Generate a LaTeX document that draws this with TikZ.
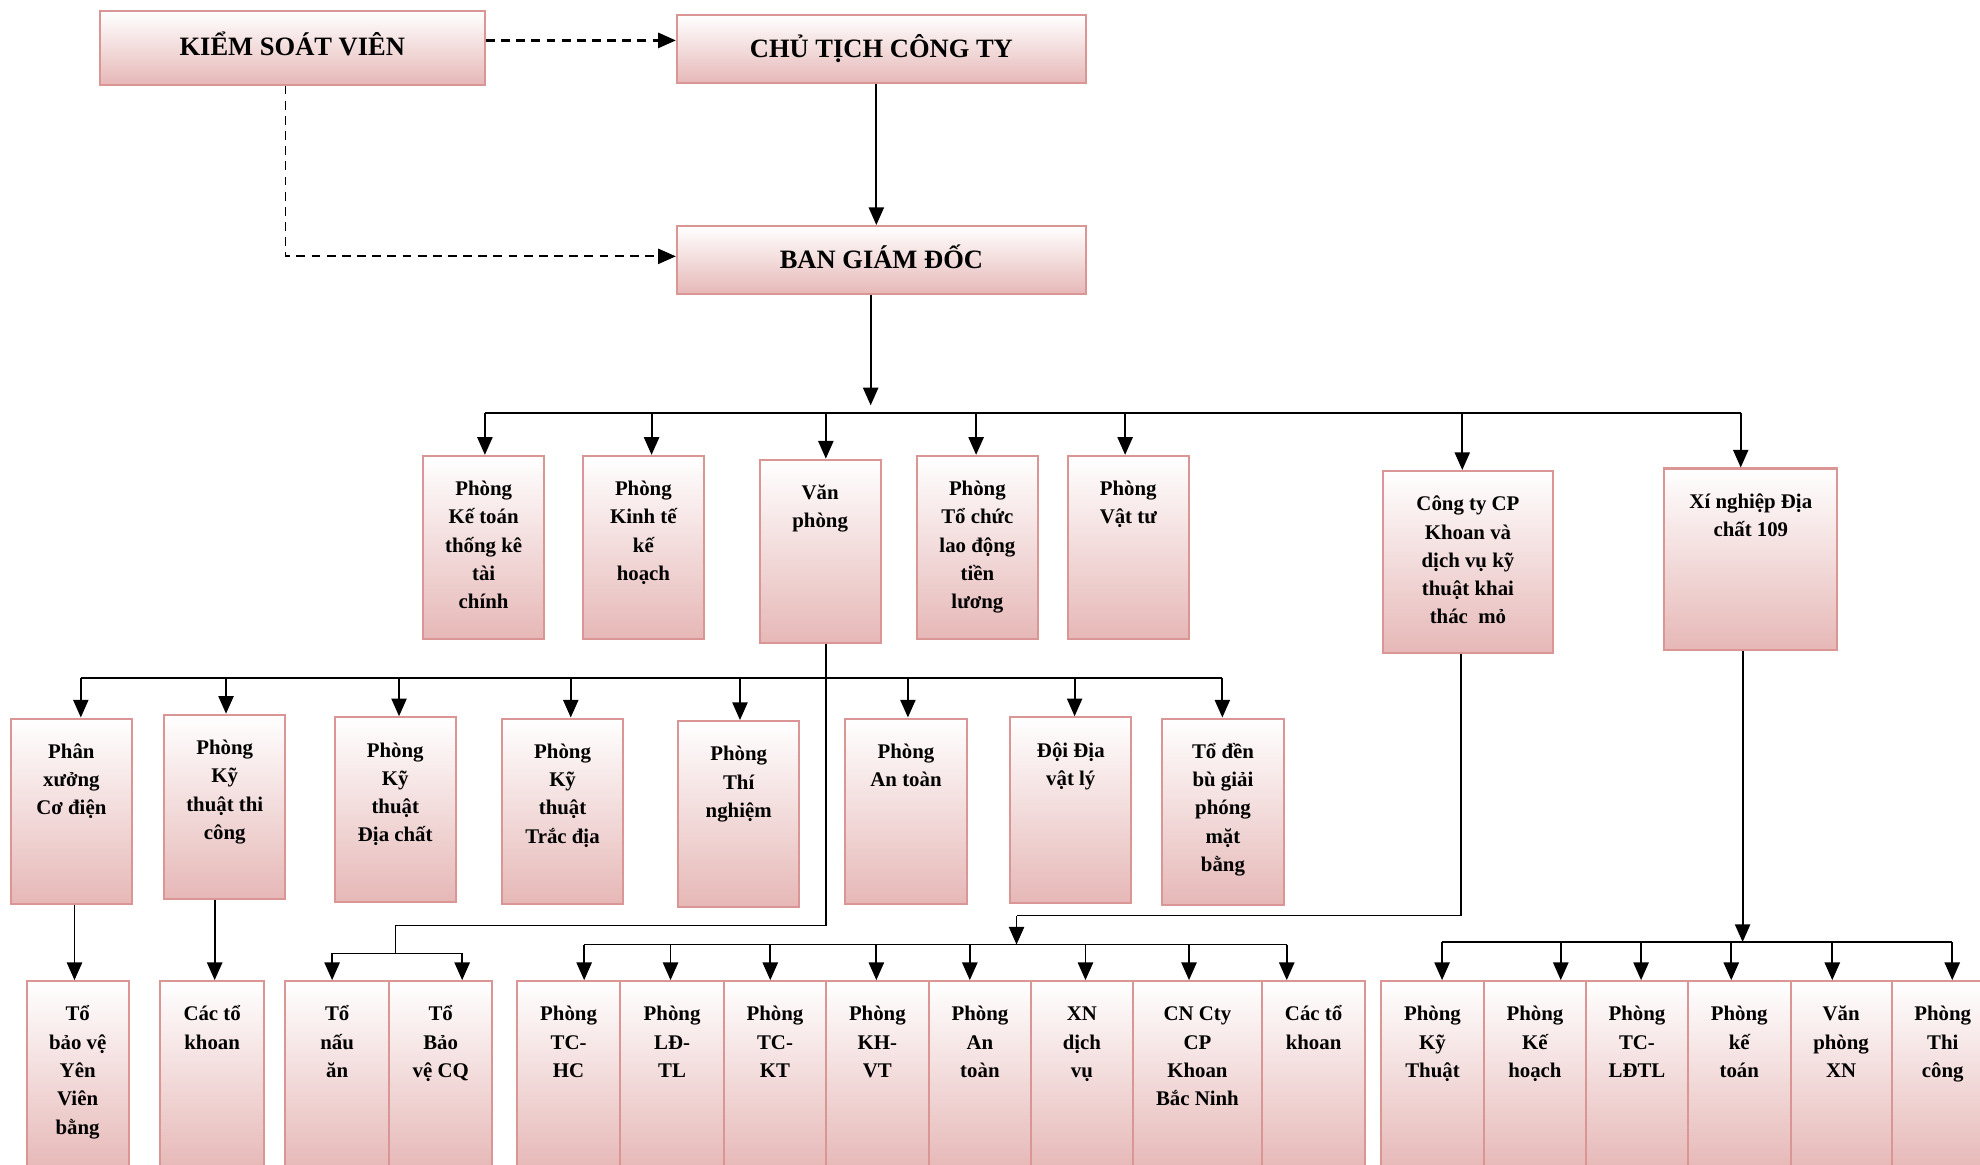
\documentclass[tikz,border=0pt]{standalone}
\usepackage{fontspec}
\setmainfont{Liberation Serif}
\usetikzlibrary{arrows.meta}
\definecolor{pborder}{RGB}{217,150,148}
\definecolor{pfill}{RGB}{230,184,183}
\newcommand\lbl[3]{\parbox[c][#2][t]{#1}{\centering\rule{0pt}{31.5pt}#3\par}}
\tikzset{
  org/.style={draw=pborder, line width=1.6pt, top color=white, bottom color=pfill,
    inner sep=0pt, font=\fontsize{16.5}{22.4}\selectfont\bfseries},
  topbox/.style={draw=pborder, line width=1.6pt, top color=white, bottom color=pfill,
    inner sep=0pt, text height=12.5pt, text depth=0pt, font=\fontsize{21}{25}\selectfont\bfseries},
  conn/.style={line width=1.3pt, black},
  arr/.style={line width=1.5pt, black, -{Triangle[length=14pt,width=12pt]}},
  darr/.style={line width=1.8pt, black, dash pattern=on 7pt off 5pt, -{Triangle[length=14pt,width=12pt]}}
}
\begin{document}
\begin{tikzpicture}[x=1pt,y=-1pt]
\useasboundingbox (0,0) rectangle (1568,922);
\fill[white] (0,0) rectangle (1568,922);
\clip (0,0) rectangle (1568,922);

% top level
\node[topbox, minimum width=305pt, minimum height=58pt] (ksv) at (231.5,38) {KIỂM SOÁT VIÊN};
\node[topbox, minimum width=324pt, minimum height=54pt] (ct) at (698,39) {CHỦ TỊCH CÔNG TY};
\node[topbox, minimum width=324pt, minimum height=54pt] (bgd) at (698,206) {BAN GIÁM ĐỐC};

% level 2
\node[org] (p1) at (383,433.5) {\lbl{96pt}{145pt}{Phòng\\Kế toán\\thống kê\\tài\\chính}};
\node[org] (p2) at (509.5,433.5) {\lbl{96pt}{145pt}{Phòng\\Kinh tế\\kế\\hoạch}};
\node[org] (p3) at (649.5,436.5) {\lbl{96pt}{145pt}{Văn\\phòng}};
\node[org] (p4) at (774,433.5) {\lbl{96pt}{145pt}{Phòng\\Tổ chức\\lao động\\tiền\\lương}};
\node[org] (p5) at (893.5,433.5) {\lbl{96pt}{145pt}{Phòng\\Vật tư}};
\node[org] (p6) at (1162.5,445) {\lbl{135pt}{144pt}{Công ty CP\\Khoan và\\dịch vụ kỹ\\thuật khai\\thác\ \ mỏ}};
\node[org] (p7) at (1386.5,443) {\lbl{137pt}{144pt}{Xí nghiệp Địa\\chất 109}};

% level 3
\node[org] (q1) at (56.5,642.5) {\lbl{96pt}{147pt}{Phân\\xưởng\\Cơ điện}};
\node[org] (q2) at (178,639) {\lbl{96pt}{146pt}{Phòng\\Kỹ\\thuật thi\\công}};
\node[org] (q3) at (313,641) {\lbl{96pt}{146pt}{Phòng\\Kỹ\\thuật\\Địa chất}};
\node[org] (q4) at (445.5,642.5) {\lbl{96pt}{147pt}{Phòng\\Kỹ\\thuật\\Trắc địa}};
\node[org] (q5) at (585,644.5) {\lbl{96pt}{147pt}{Phòng\\Thí\\nghiệm}};
\node[org] (q6) at (717.5,642.5) {\lbl{96pt}{147pt}{Phòng\\An toàn}};
\node[org] (q7) at (848,641.5) {\lbl{96pt}{147pt}{Đội Địa\\vật lý}};
\node[org] (q8) at (968.5,643) {\lbl{96pt}{148pt}{Tổ đền\\bù giải\\phóng\\mặt\\bằng}};

% level 4
\node[org] (l1) at (61.5,852) {\lbl{81pt}{150pt}{Tổ\\bảo vệ\\Yên\\Viên\\bằng}};
\node[org] (l2) at (168,852) {\lbl{82pt}{150pt}{Các tổ\\khoan}};
\node[org] (l3) at (267,852) {\lbl{82pt}{150pt}{Tổ\\nấu\\ăn}};
\node[org] (l4) at (349,852) {\lbl{82pt}{150pt}{Tổ\\Bảo\\vệ CQ}};

\node[org] (g1) at (450.25,852) {\lbl{81.5pt}{150pt}{Phòng\\TC-\\HC}};
\node[org] (g2) at (532.25,852) {\lbl{82.5pt}{150pt}{Phòng\\LĐ-\\TL}};
\node[org] (g3) at (613.75,852) {\lbl{80.5pt}{150pt}{Phòng\\TC-\\KT}};
\node[org] (g4) at (694.8,852) {\lbl{81.6pt}{150pt}{Phòng\\KH-\\VT}};
\node[org] (g5) at (776,852) {\lbl{81pt}{150pt}{Phòng\\An\\toàn}};
\node[org] (g6) at (856.75,852) {\lbl{80.5pt}{150pt}{XN\\dịch\\vụ}};
\node[org] (g7) at (948.25,852) {\lbl{102.5pt}{150pt}{CN Cty\\CP\\Khoan\\Bắc Ninh}};
\node[org] (g8) at (1040.25,852) {\lbl{81.5pt}{150pt}{Các tổ\\khoan}};

\node[org] (x1) at (1134.4,852) {\lbl{81.2pt}{150pt}{Phòng\\Kỹ\\Thuật}};
\node[org] (x2) at (1215.5,852) {\lbl{81pt}{150pt}{Phòng\\Kế\\hoạch}};
\node[org] (x3) at (1296.35,852) {\lbl{80.7pt}{150pt}{Phòng\\TC-\\LĐTL}};
\node[org] (x4) at (1377.35,852) {\lbl{81.3pt}{150pt}{Phòng\\kế\\toán}};
\node[org] (x5) at (1458,852) {\lbl{80pt}{150pt}{Văn\\phòng\\XN}};
\node[org] (x6) at (1538.5,852) {\lbl{81pt}{150pt}{Phòng\\Thi\\công}};

% dashed control links
\draw[darr] ([yshift=6pt]ksv.east) -- ([yshift=6pt]ksv.east -| ct.west);
\draw[darr, line width=1.4pt] ([xshift=-5.5pt]ksv.south) |- ([yshift=3pt]bgd.west);
\draw[arr] ([xshift=-4pt]ct.south) -- ([xshift=-4pt]bgd.north);

% BGD to level 2
\coordinate (t0) at (689.5,321);
\draw[arr] (bgd.south -| t0) -- (t0);
\coordinate (m1) at (384,327);
\coordinate (m2) at (516,327);
\coordinate (m3) at (654,327);
\coordinate (m4) at (773,327);
\coordinate (m5) at (891,327);
\coordinate (m6) at (1158,327);
\coordinate (m7) at (1378.5,327);
\draw[conn] (m1) -- (m7);
\foreach \i in {1,...,7} \draw[arr] (m\i) -- (m\i |- p\i.north);

% Van phong to level 3
\coordinate (n1) at (64,537);
\coordinate (n2) at (179,537);
\coordinate (n3) at (316,537);
\coordinate (n4) at (452,537);
\coordinate (n5) at (586,537);
\coordinate (n6) at (719,537);
\coordinate (n7) at (851,537);
\coordinate (n8) at (968,537);
\draw[conn] (n1) -- (n8);
\foreach \i in {1,...,8} \draw[arr] (n\i) -- (n\i |- q\i.north);
\coordinate (v2) at (313,733);
\coordinate (v3) at (313,755);
\draw[line width=1.1pt] ([xshift=4.5pt]p3.south) |- (v2) -- (v3);
\coordinate (w1) at (263,755);
\coordinate (w2) at (366,755);
\draw[conn] (w1) -- (w2);
\draw[arr] (w1) -- (w1 |- l3.north);
\draw[arr] (w2) -- (w2 |- l4.north);

% level 3 to level 4
\draw[arr] ([xshift=2.5pt]q1.south) -- ([xshift=2.5pt]q1.south |- l1.north);
\draw[arr] ([xshift=-8pt]q2.south) -- ([xshift=-8pt]q2.south |- l2.north);

% Cong ty CP group
\coordinate (c1) at (805,725);
\coordinate (c2) at (805,748);
\draw[conn] ([xshift=-5.5pt]p6.south) |- (c1);
\draw[arr] (c1) -- (c2);
\coordinate (e1) at (462.6,748);
\coordinate (e2) at (531,748);
\coordinate (e3) at (610,748);
\coordinate (e4) at (694,748);
\coordinate (e5) at (768,748);
\coordinate (e6) at (859.6,748);
\coordinate (e7) at (941.6,748);
\coordinate (e8) at (1019,748);
\draw[conn] (e1) -- (e8);
\foreach \i in {1,...,8} \draw[arr] (e\i) -- (e\i |- g\i.north);

% Xi nghiep group
\coordinate (f0) at (1380,746);
\draw[arr] ([xshift=-6.5pt]p7.south) -- (f0);
\coordinate (f1) at (1142,746);
\coordinate (f2) at (1236,746);
\coordinate (f3) at (1299.6,746);
\coordinate (f4) at (1371,746);
\coordinate (f5) at (1451,746);
\coordinate (f6) at (1546,746);
\draw[conn] (f1) -- (f6);
\foreach \i in {1,...,6} \draw[arr] (f\i) -- (f\i |- x\i.north);
\end{tikzpicture}
\end{document}
